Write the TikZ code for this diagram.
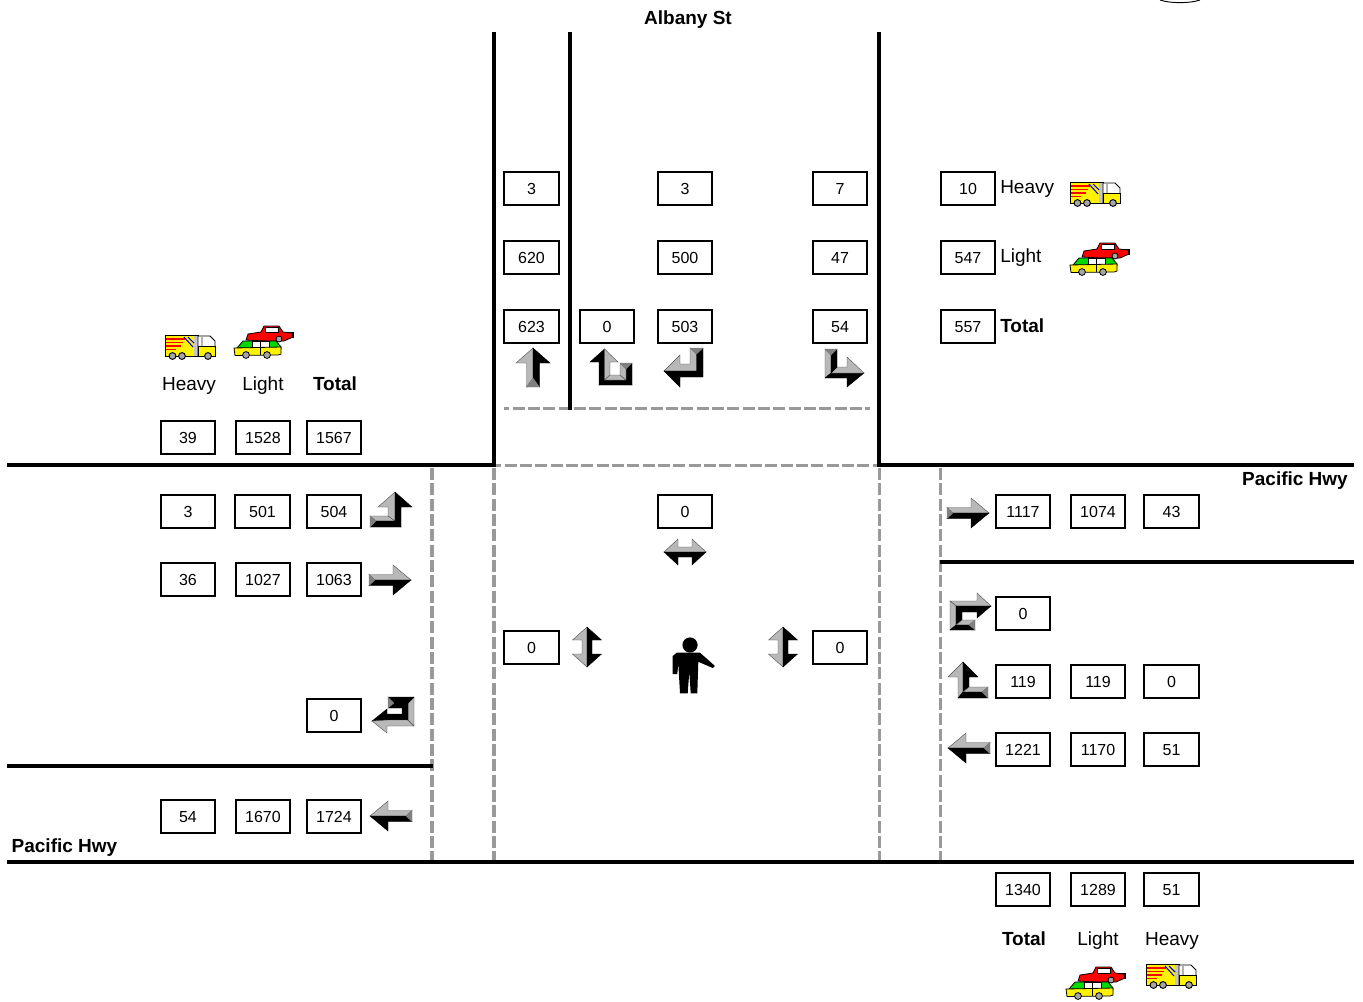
\documentclass[tikz,border=0pt]{standalone}
\usepackage{fontspec}
\setmainfont{Liberation Sans}
\newcommand\fc[2]{\path[#1] #2 -- cycle;}
\newcommand\uparrowicon[2]{\begin{scope}[shift={(#1,#2)}]
\fc{fctlight}{(0,-20)--(-17,-5)--(-6.5,-5)--(-6.5,19)--(0,10)}
\fc{fctdark}{(0,-20)--(17,-5)--(6.5,-5)--(6.5,19)--(0,10)}
\fc{fctmid}{(-6.5,19)--(6.5,19)--(0,10)}
\end{scope}}
\newcommand\sidearrowicon[3]{\begin{scope}[shift={(#1,#2)},xscale=#3]
\fc{fctlight}{(21,0)--(3,-15)--(3,-5.5)--(-21,-5.5)--(-15,0)}
\fc{fctdark}{(21,0)--(3,15)--(3,5.5)--(-21,5.5)--(-15,0)}
\fc{fctmid}{(-21,-5.5)--(-21,5.5)--(-15,0)}
\end{scope}}
\newcommand\hdoubleicon[2]{\begin{scope}[shift={(#1,#2)}]
\fc{fctlight}{(-21,0)--(-7,-13)--(-7,-5)--(7,-5)--(7,-13)--(21,0)}
\fc{fctdark}{(-21,0)--(-7,13)--(-7,5)--(7,5)--(7,13)--(21,0)}
\end{scope}}
\newcommand\vdoubleicon[2]{\begin{scope}[shift={(#1,#2)}]
\fc{fctlight}{(0,-20)--(-14.5,-7)--(-5,-7)--(-5,7)--(-14.5,7)--(0,20)}
\fc{fctdark}{(0,-20)--(14.5,-7)--(5,-7)--(5,7)--(14.5,7)--(0,20)}
\end{scope}}
\newcommand\truckicon[2]{\begin{scope}[shift={(#1,#2)},line width=.7pt]
\filldraw[fill=yellow,draw=black] (0,0) rectangle (33,21);
\fill[gray!45] (29,1) rectangle (32.6,20.6);
\draw[red,line width=1.2pt] (1,4)--(20,4) (1,7.5)--(18,7.5) (1,11)--(16,11) (1,14.5)--(11,14.5);
\draw[blue,line width=.8pt] (19,2)--(28,12) (23,2)--(29,8);
\filldraw[fill=white,draw=black] (33,1)--(45,1)--(50,6)--(50,21)--(33,21)--cycle;
\fill[gray!60] (36,2) rectangle (37.5,11);
\filldraw[fill=yellow,draw=black,line width=.4pt] (33,11) rectangle (50,21);
\filldraw[fill=gray!70,draw=black] (7.5,21) circle[radius=3.4] (17,21) circle[radius=3.4] (43,21) circle[radius=3.4];
\end{scope}}
\newcommand\carsicon[2]{\begin{scope}[shift={(#1,#2)},line width=.6pt]
\fill[black] (50,7) rectangle (60,13);
\filldraw[fill=red,draw=black] (12,15)--(14,9)--(27,7)--(30,1)--(45,1)--(49,7)--(58,8)--(59,12)--(50,16)--(30,16)--cycle;
\filldraw[fill=white,draw=black,line width=.3pt] (31,2.5) rectangle (44,7);
\filldraw[fill=gray!70,draw=black] (45,14) circle[radius=3];
\filldraw[fill=green!85!black,draw=black] (3,23)--(9,16)--(42,16)--(47,22)--(47,24)--cycle;
\filldraw[fill=white,draw=black,line width=.3pt] (18,16.5) rectangle (35,23);
\filldraw[fill=yellow,draw=black] (0,23)--(47,22)--(47,29)--(44,30)--(1,30.5)--cycle;
\draw[black,line width=.3pt] (26,17)--(26,30);
\filldraw[fill=gray!70,draw=black] (12,30) circle[radius=3.4] (33,30) circle[radius=3.4];
\end{scope}}
\tikzset{
 fctlight/.style={fill=black!28,draw=black!70,line width=.3pt},
 fctdark/.style={fill=black,draw=black,line width=.3pt},
 fctmid/.style={fill=black!50,draw=black!50,line width=.2pt},
 road/.style={line width=3pt,black},
 lane/.style={line width=2.5pt,black!40,dash pattern=on 9pt off 2.5pt},
 numbox/.style={draw=black,line width=1.5pt,fill=white,minimum width=40.9pt,minimum height=24.75pt,inner sep=0pt,text height=10pt,text depth=0pt,font=\fontsize{12}{14}\selectfont},
 lbl/.style={inner sep=0pt,anchor=base,font=\fontsize{14.25}{17}\selectfont},
 blbl/.style={inner sep=0pt,anchor=base,font=\fontsize{14.25}{17}\selectfont\bfseries}
}
\begin{document}
\begin{tikzpicture}[x=0.75pt,y=-0.75pt]
\useasboundingbox (0,0) rectangle (1363,1001);
\fill[white] (0,0) rectangle (1363,1001);
% lane dashes
\draw[lane,dash phase=5pt] (504,408.5)--(870,408.5);
\draw[lane,dash phase=5pt] (496,465.5)--(879,465.5);
\draw[lane] (432,468)--(432,861);
\draw[lane] (494,468)--(494,861);
\draw[lane] (879.5,468)--(879.5,861);
\draw[lane] (940.5,468)--(940.5,861);
% kerbs
\draw[road] (494,32)--(494,467);
\draw[road] (570,32)--(570,410);
\draw[road] (879,32)--(879,467);
\draw[road] (7,465.3)--(496,465.3);
\draw[road] (877,465.3)--(1354,465.3);
\draw[road] (940,562)--(1354,562);
\draw[road] (7,766)--(433,766);
\draw[road] (7,861.5)--(1354,861.5);
\draw[line width=.7pt] (1160,0) .. controls (1170,3.5) and (1190,3.5) .. (1200,0);
% number boxes
\foreach \px/\py/\val in {531.5/188/3,685/188/3,840/188/7,968/188/10,
 531.5/257/620,685/257/500,840/257/47,968/257/547,
 531.5/326/623,607/326/0,685/326/503,840/326/54,968/326/557,
 188/437/39,263/437/1528,334/437/1567,
 188/511/3,262.5/511/501,334/511/504,685/511/0,1023/511/1117,1098/511/1074,1171.5/511/43,
 188/579/36,263/579/1027,334/579/1063,
 1023/613/0,531.5/647/0,840/647/0,
 1023/681/119,1098/681/119,1171.5/681/0,334/715/0,
 1023/749/1221,1098/749/1170,1171.5/749/51,
 188/816/54,263/816/1670,334/816/1724,
 1023/889/1340,1098/889/1289,1171.5/889/51}
 {\node[numbox] (n-\px-\py) at (\px,\py) {\val};}
% labels
\node[blbl] (albany) at (688,24.5) {Albany St};
\node[blbl] (pacE) at (1295,485.5) {Pacific Hwy};
\node[blbl] (pacW) at (64.5,852.5) {Pacific Hwy};
\node[lbl,anchor=base west] (heavyN) at (1000,193.5) {Heavy};
\node[lbl,anchor=base west] (lightN) at (1000,262.5) {Light};
\node[blbl,anchor=base west] (totalN) at (1000,332) {Total};
\node[lbl] (heavyW) at (189,390.5) {Heavy};
\node[lbl] (lightW) at (263,390.5) {Light};
\node[blbl] (totalW) at (335,390.5) {Total};
\node[blbl] (totalS) at (1024,945.5) {Total};
\node[lbl] (lightS) at (1098,945.5) {Light};
\node[lbl] (heavyS) at (1172,945.5) {Heavy};
% vehicle icons
\truckicon{1070}{182}\truckicon{165}{335}\truckicon{1146}{964}
\carsicon{1070}{242}\carsicon{234}{325}\carsicon{1066}{966}
% straight arrows
\uparrowicon{533}{368}
\sidearrowicon{390}{580}{1}
\sidearrowicon{968}{513}{1}
\sidearrowicon{391}{816}{-1}
\sidearrowicon{969}{748}{-1}
% north approach: U-turn
\fc{fctdark}{(604.5,349)--(590,362)--(599,362)--(599,385)--(604.5,380)}
\fc{fctlight}{(604.5,349)--(618,362)--(610,362)--(610,375)--(604.5,380)}
\fc{fctdark}{(599,385)--(632,385)--(626,380)--(604.5,380)}
\fc{fctlight}{(610,375)--(620,375)--(626,380)--(604.5,380)}
\fc{fctdark}{(632,363)--(632,385)--(626,380)--(626,369)}
\fc{fctlight}{(620,363)--(620,375)--(626,380)--(626,369)}
\fc{fctmid}{(620,363)--(632,363)--(626,369)}
% north approach: left turn on screen
\fc{fctlight}{(664,371)--(680,355)--(680,364)--(690,364)--(690,348)--(696.5,354)--(696.5,371)}
\fc{fctdark}{(664,371)--(696.5,371)--(696.5,354)--(703,348)--(703,377)--(680,377)--(680,387)}
\fc{fctmid}{(690,348)--(703,348)--(696.5,354)}
% north approach: right turn on screen
\fc{fctlight}{(825,349)--(831,355)--(831,373)--(825,378)}
\fc{fctdark}{(825,378)--(847,378)--(847,387)--(864,373)--(831,373)}
\fc{fctlight}{(837,367)--(847,367)--(847,357)--(864,373)--(831,373)}
\fc{fctdark}{(837,349)--(837,367)--(831,373)--(831,355)}
\fc{fctmid}{(825,349)--(837,349)--(831,355)}
% west approach: bear up
\fc{fctlight}{(395,492)--(378,507)--(388,507)--(388,516)--(395,521)}
\fc{fctlight}{(370,516)--(388,516)--(395,521)--(376,521)}
\fc{fctdark}{(395,492)--(412,507)--(401,507)--(401,527)--(395,521)}
\fc{fctdark}{(370,527)--(401,527)--(395,521)--(376,521)}
\fc{fctmid}{(370,516)--(370,527)--(376,521)}
% west approach: U-turn
\fc{fctdark}{(372,721)--(387,709)--(387,714)--(402,714)--(408,720)--(387,720)}
\fc{fctlight}{(372,721)--(387,733)--(387,726)--(414,726)--(408,720)--(387,720)}
\fc{fctlight}{(414,697)--(414,726)--(408,720)--(408,703)}
\fc{fctdark}{(402,708)--(402,714)--(408,720)--(408,703)}
\fc{fctdark}{(388,708)--(402,708)--(408,703)--(394,703)}
\fc{fctdark}{(388,697)--(414,697)--(408,703)--(394,703)}
\fc{fctmid}{(388,697)--(388,708)--(394,703)}
% east approach: U-turn
\fc{fctlight}{(991,606)--(977,593)--(977,601)--(950,601)--(956,606)}
\fc{fctdark}{(991,606)--(977,618)--(977,612)--(962,612)--(956,606)}
\fc{fctlight}{(950,601)--(950,630)--(956,625)--(956,606)}
\fc{fctdark}{(962,612)--(962,620)--(956,625)--(956,606)}
\fc{fctlight}{(962,620)--(975,620)--(969,625)--(956,625)}
\fc{fctdark}{(950,630)--(975,630)--(969,625)--(956,625)}
\fc{fctmid}{(975,620)--(975,630)--(969,625)}
% east approach: bear up
\fc{fctlight}{(963,662)--(948,677)--(958,677)--(958,698)--(963,692)}
\fc{fctdark}{(963,662)--(978,677)--(969,677)--(969,687)--(963,692)}
\fc{fctlight}{(969,687)--(988,687)--(982,692)--(963,692)}
\fc{fctdark}{(958,698)--(988,698)--(982,692)--(963,692)}
\fc{fctmid}{(988,687)--(988,698)--(982,692)}
% pedestrian signals
\hdoubleicon{685}{552}
\vdoubleicon{587}{647}
\vdoubleicon{783}{647}
% pedestrian
\fill[black] (690,645) circle[radius=7.6];
\fill[black] (676.7,652.7)--(700,652.7)--(715,666)--(712.7,668)--(698.3,661.7)--(697.3,693.3)--(690.7,693.3)--(689.3,671.7)--(687.7,693.3)--(680,693.3)--(678.3,663.3)--(677.3,674)--(672.7,674)--(672.7,656)--cycle;
\end{tikzpicture}
\end{document}
